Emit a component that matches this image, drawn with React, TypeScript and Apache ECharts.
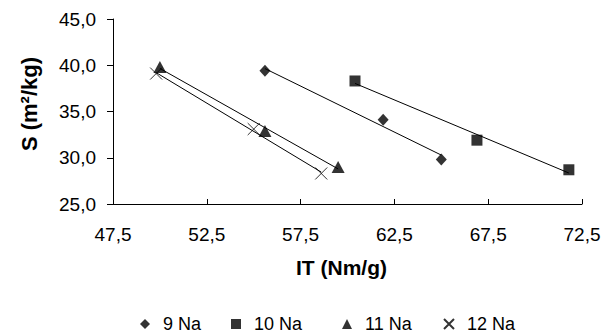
import React, { useEffect, useRef } from "react";
import * as echarts from "echarts";

const seriesNames = ["9 Na", "10 Na", "11 Na", "12 Na"];
const x9 = [55.6, 61.9, 65.0];
const y9 = [39.4, 34.1, 29.8];
const x10 = [60.4, 66.9, 71.8];
const y10 = [38.3, 31.9, 28.7];
const x11 = [50.0, 55.6, 59.5];
const y11 = [39.8, 32.9, 29.0];
const x12 = [49.8, 55.0, 58.6];
const y12 = [39.1, 33.1, 28.3];

const xTicks = { min: 47.5, max: 72.5, interval: 5 };
const yTicks = { min: 25, max: 45, interval: 5 };
const xTitle = "IT (Nm/g)";
const yTitle = "S (m²/kg)";

const FONT = "'Liberation Sans', Arial, sans-serif";

function fitLine(xs: number[], ys: number[]): number[][] {
  const n = xs.length;
  const mx = xs.reduce((a, b) => a + b, 0) / n;
  const my = ys.reduce((a, b) => a + b, 0) / n;
  let sxy = 0;
  let sxx = 0;
  for (let i = 0; i < n; i++) {
    sxy += (xs[i] - mx) * (ys[i] - my);
    sxx += (xs[i] - mx) * (xs[i] - mx);
  }
  const b = sxy / sxx;
  const a = my - b * mx;
  const x0 = Math.min(...xs);
  const x1 = Math.max(...xs);
  return [
    [x0, a + b * x0],
    [x1, a + b * x1],
  ];
}

const fmt = (v: number) => v.toFixed(1).replace(".", ",");

export default function App() {
  const ref = useRef<HTMLDivElement>(null);
  useEffect(() => {
    if (!ref.current) return;
    const chart = echarts.init(ref.current, null, { renderer: "svg" });
    const groups = [
      { name: seriesNames[0], xs: x9, ys: y9, symbol: "diamond", size: [11, 12] },
      { name: seriesNames[1], xs: x10, ys: y10, symbol: "rect", size: 11 },
      { name: seriesNames[2], xs: x11, ys: y11, symbol: "triangle", size: [13, 12] },
      { name: seriesNames[3], xs: x12, ys: y12, symbol: "path://M0,0L10,10M0,10L10,0", size: 12 },
    ];
    const series: any[] = [];
    groups.forEach((g) => {
      series.push({
        type: "line",
        name: g.name + " fit",
        data: fitLine(g.xs, g.ys),
        showSymbol: false,
        symbol: "none",
        lineStyle: { color: "#000", width: 1 },
        silent: true,
        z: 1,
      });
    });
    groups.forEach((g, i) => {
      const isCross = i === 3;
      series.push({
        type: "scatter",
        name: g.name,
        data: g.xs.map((x, k) => [x, g.ys[k]]),
        symbol: g.symbol,
        symbolSize: g.size,
        itemStyle: isCross
          ? { color: "rgba(0,0,0,0)", borderColor: "#000", borderWidth: 1 }
          : { color: "#000" },
        z: 3,
      });
    });
    const legendLefts = [140, 231, 342, 443];
    const legends = seriesNames.map((name, i) => ({
      data: [name],
      left: legendLefts[i],
      top: 315,
      padding: 0,
      itemWidth: 10,
      itemHeight: 10,
      textStyle: {
        fontFamily: FONT,
        fontSize: 18,
        color: "#000",
        padding: [0, 0, 0, 8],
      },
    }));
    chart.setOption({
      animation: false,
      backgroundColor: "#fff",
      grid: { left: 113, right: 29, top: 19, bottom: 131 },
      legend: legends,
      graphic: [
        {
          type: "text",
          x: 29,
          y: 104,
          rotation: Math.PI / 2,
          style: {
            text: yTitle,
            fontFamily: FONT,
            fontSize: 22,
            fontWeight: "bold",
            fill: "#000",
            textAlign: "center",
            textVerticalAlign: "middle",
          },
        },
        {
          type: "text",
          x: 341.5,
          y: 267,
          style: {
            text: xTitle,
            fontFamily: FONT,
            fontSize: 21,
            fontWeight: "bold",
            fill: "#000",
            textAlign: "center",
            textVerticalAlign: "middle",
          },
        },
      ],
      xAxis: {
        type: "value",
        min: xTicks.min,
        max: xTicks.max,
        interval: xTicks.interval,
        axisLine: { lineStyle: { color: "#000", width: 1 } },
        axisTick: { inside: true, length: 5, lineStyle: { color: "#000" } },
        axisLabel: { formatter: fmt, fontFamily: FONT, fontSize: 19, color: "#000", margin: 21 },
        splitLine: { show: false },
      },
      yAxis: {
        type: "value",
        min: yTicks.min,
        max: yTicks.max,
        interval: yTicks.interval,
        axisLine: { show: true, lineStyle: { color: "#000", width: 1 } },
        axisTick: { show: true, length: 6, lineStyle: { color: "#000" } },
        axisLabel: { formatter: fmt, fontFamily: FONT, fontSize: 19, color: "#000", margin: 17 },
        splitLine: { show: false },
      },
      series,
    });
    return () => chart.dispose();
  }, []);
  return (
    <div
      ref={ref}
      style={{ position: "fixed", left: 0, top: 0, width: 611, height: 335 }}
    />
  );
}
